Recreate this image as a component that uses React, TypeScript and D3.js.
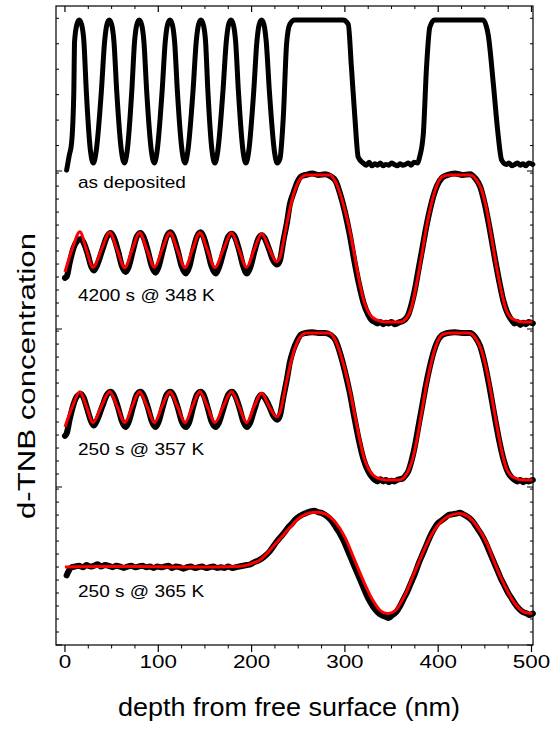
import React from 'react';
import * as d3 from 'd3';

type P = [number, number];

const xTickLabels = [0, 100, 200, 300, 400, 500];
const xMinorStep = 25;
const panelLabels = ['as deposited', '4200 s @ 348 K', '250 s @ 357 K', '250 s @ 365 K'];
const xTitle = 'depth from free surface (nm)';
const yTitle = 'd-TNB concentration';

const asDeposited: P[] = [
  [1.8, -0.05], [4.5, 0.05], [7.1, 0.14], [9.5, 0.5], [10.3, 0.85], [12.8, 0.97], [15.3, 1.0], [17.8, 0.97], [20.3, 0.85], [22.9, 0.5], [27.4, 0.08], [30.4, 0.0], [33.4, 0.08],
  [39, 0.5], [42.5, 0.85], [45, 0.97], [47.5, 1.0], [50, 0.97], [52.5, 0.85], [55.5, 0.5], [60.6, 0.08], [63.6, 0.0], [66.6, 0.08],
  [71.6, 0.5], [74.6, 0.85], [77.1, 0.97], [79.6, 1.0], [82.1, 0.97], [84.6, 0.85], [87.6, 0.5], [92.7, 0.08], [95.7, 0.0], [98.7, 0.08],
  [104.1, 0.5], [107.5, 0.85], [110, 0.97], [112.5, 1.0], [115, 0.97], [117.5, 0.85], [120.5, 0.5], [125.6, 0.08], [128.6, 0.0], [131.6, 0.08],
  [137.2, 0.5], [140.7, 0.85], [143.2, 0.97], [145.7, 1.0], [148.2, 0.97], [150.7, 0.85], [153.2, 0.5], [157.7, 0.08], [160.7, 0.0], [163.7, 0.08],
  [169.3, 0.5], [172.9, 0.85], [175.4, 0.97], [177.9, 1.0], [180.4, 0.97], [182.9, 0.85], [185.9, 0.5], [190.9, 0.08], [193.9, 0.0], [196.9, 0.08],
  [202.3, 0.5], [205.7, 0.85], [208.2, 0.97], [210.7, 1.0], [213.2, 0.97], [215.7, 0.85], [219.1, 0.5], [224.5, 0.08], [227.5, 0.0],
  [230.4, 0.03], [234, 0.32], [237.6, 0.84], [241, 0.97], [246, 1.0], [270, 1.0], [298, 1.0],
  [303.6, 0.97], [307, 0.67], [310.7, 0.32], [314.3, 0.04], [319.6, 0.0],
  [323, -0.015], [326, 0.005], [329, -0.02], [332, -0.005], [335, -0.015], [338, 0.0], [341, -0.02], [344, -0.01],
  [347, -0.015], [350, 0.0], [353, -0.01], [356, -0.02], [359, -0.005], [362, -0.015], [365, -0.01], [368, 0.0],
  [371, -0.015], [374, 0.005], [378, 0.0], [380, 0.04], [384, 0.2], [387.5, 0.67], [391, 0.95], [396, 1.0], [420, 1.0], [448, 1.0],
  [453.5, 0.9], [459, 0.56], [464, 0.21], [468, 0.02], [473, -0.01], [476, 0.0], [479, -0.02], [482, -0.01],
  [485, 0.0], [488, -0.015], [491, -0.005], [494, -0.02], [497, 0.0], [501.4, -0.01],
];

const data348: P[] = [
  [0, 0.3], [2, 0.31], [5, 0.4], [9, 0.5], [13, 0.55], [17, 0.565], [20, 0.54], [24, 0.47], [28, 0.38], [31, 0.35], [34, 0.38],
  [40, 0.49], [45, 0.58], [49, 0.605], [52, 0.58], [57, 0.48], [61, 0.38], [65, 0.34], [68, 0.37], [73, 0.49], [77, 0.58],
  [81, 0.605], [84, 0.58], [89, 0.48], [93, 0.38], [97, 0.335], [100, 0.37], [105, 0.49], [109, 0.58], [113, 0.61], [116, 0.585],
  [121, 0.48], [125, 0.38], [129.5, 0.33], [133, 0.37], [137.5, 0.49], [141.5, 0.58], [145.5, 0.61], [148.5, 0.58], [153, 0.48],
  [157, 0.38], [161.5, 0.33], [165, 0.37], [170.5, 0.49], [175, 0.58], [179, 0.6], [182, 0.58], [187, 0.48], [191, 0.38],
  [195, 0.33], [198.5, 0.37], [203.5, 0.49], [207.5, 0.57], [211, 0.59], [214, 0.57], [219, 0.49], [223, 0.42], [227.5, 0.39],
  [230.5, 0.42], [234, 0.55], [238, 0.68], [241, 0.8], [245, 0.88], [249, 0.95], [253, 0.99], [258, 1.0], [265, 1.01],
  [272, 1.0], [279, 1.005], [285, 0.99], [290, 0.96], [295, 0.87], [300, 0.75], [305, 0.6], [310, 0.42], [315, 0.26],
  [320, 0.13], [325, 0.05], [329, 0.01], [332, 0.0], [335, -0.01], [338, 0.0], [341, -0.015], [344, -0.005], [347, -0.01],
  [350, 0.0], [353, -0.015], [356, -0.01], [359, 0.0], [362, 0.005], [365, 0.02], [368, 0.05], [371, 0.11], [375, 0.22],
  [379, 0.36], [383, 0.5], [387, 0.64], [391, 0.76], [395, 0.86], [399, 0.93], [404, 0.98], [410, 1.0], [418, 1.01],
  [426, 1.0], [434, 1.005], [440, 0.975], [445, 0.92], [450, 0.8], [455, 0.64], [460, 0.46], [465, 0.29], [470, 0.14],
  [475, 0.05], [479, 0.01], [482, -0.01], [485, 0.0], [488, -0.02], [491, -0.005], [494, -0.015], [497, 0.0], [501.4, -0.01],
];

const fit348: P[] = [
  [0, 0.34], [8, 0.5], [16, 0.614], [23, 0.49], [30, 0.372], [39, 0.49], [48, 0.608], [56, 0.49], [64, 0.37], [72, 0.49],
  [80, 0.607], [88, 0.49], [96, 0.372], [104, 0.49], [112.5, 0.607], [120.5, 0.49], [128.6, 0.37], [136.6, 0.49],
  [144.6, 0.607], [152.6, 0.49], [160.7, 0.37], [169.6, 0.49], [178.6, 0.605], [186.6, 0.49], [194.6, 0.372], [202.7, 0.49],
  [210.8, 0.6], [218.8, 0.5], [226.8, 0.41], [230.4, 0.44], [237.5, 0.66], [244.6, 0.86], [251.8, 0.97], [259, 1.0],
  [284, 1.0], [289, 0.966], [294.6, 0.88], [300, 0.76], [305, 0.63], [310.7, 0.44], [316, 0.26], [321, 0.13], [326.8, 0.05],
  [334, 0.014], [344.6, 0.0], [359, 0.0], [366, 0.027], [371.5, 0.1], [376.8, 0.26], [382, 0.44], [387.5, 0.65], [393, 0.81],
  [398, 0.92], [405, 0.99], [412.5, 1.0], [434, 1.0], [441, 0.966], [446.5, 0.9], [452, 0.76], [457, 0.58], [462.5, 0.376],
  [468, 0.2], [473, 0.08], [480, 0.02], [491, 0.0], [501.4, 0.0],
];

const data357: P[] = [
  [0, 0.3], [2, 0.32], [5, 0.41], [9, 0.51], [13, 0.57], [17, 0.585], [20, 0.56], [24, 0.48], [28, 0.4], [31, 0.37], [34, 0.4],
  [40, 0.5], [45, 0.58], [49, 0.6], [52, 0.58], [57, 0.49], [61, 0.4], [65, 0.36], [68, 0.39], [73, 0.5], [77, 0.58], [81, 0.6],
  [84, 0.58], [89, 0.49], [93, 0.4], [97, 0.36], [100, 0.39], [105, 0.5], [109, 0.58], [113, 0.6], [116, 0.58], [121, 0.49],
  [125, 0.4], [129.5, 0.36], [133, 0.39], [137.5, 0.5], [141.5, 0.58], [145.5, 0.6], [148.5, 0.58], [153, 0.49], [157, 0.4],
  [161.5, 0.36], [165, 0.39], [170.5, 0.5], [175, 0.58], [179, 0.6], [182, 0.58], [187, 0.49], [191, 0.4], [195, 0.36],
  [198.5, 0.39], [203.5, 0.49], [207.5, 0.56], [211, 0.58], [214, 0.56], [219, 0.5], [223, 0.44], [227.5, 0.41], [230.5, 0.44],
  [234, 0.56], [238, 0.69], [241, 0.8], [245, 0.89], [249, 0.95], [253, 0.99], [258, 1.0], [265, 1.005], [272, 1.0], [279, 1.0],
  [285, 0.985], [290, 0.95], [295, 0.86], [300, 0.74], [305, 0.6], [310, 0.43], [315, 0.27], [320, 0.14], [325, 0.06],
  [329, 0.02], [332, 0.0], [335, -0.01], [338, 0.005], [341, -0.01], [344, 0.0], [347, -0.015], [350, -0.005], [353, -0.01],
  [356, 0.0], [359, 0.005], [362, 0.01], [365, 0.03], [368, 0.06], [371, 0.12], [375, 0.23], [379, 0.37], [383, 0.51],
  [387, 0.65], [391, 0.77], [395, 0.87], [399, 0.94], [404, 0.985], [410, 1.0], [418, 1.005], [426, 1.0], [434, 1.0],
  [440, 0.97], [445, 0.91], [450, 0.79], [455, 0.63], [460, 0.45], [465, 0.28], [470, 0.14], [475, 0.05], [479, 0.015],
  [482, 0.0], [485, -0.01], [488, 0.0], [491, -0.015], [494, -0.005], [497, -0.01], [501.4, 0.0],
];

const fit357: P[] = [
  [0, 0.36], [8, 0.5], [16, 0.6], [23, 0.5], [30, 0.39], [39, 0.5], [48, 0.6], [56, 0.5], [64, 0.39], [72, 0.5], [80, 0.6],
  [88, 0.5], [96, 0.39], [104, 0.5], [112.5, 0.6], [120.5, 0.5], [128.6, 0.39], [136.6, 0.5], [144.6, 0.6], [152.6, 0.5],
  [160.7, 0.39], [169.6, 0.5], [178.6, 0.6], [186.6, 0.5], [194.6, 0.39], [202.7, 0.5], [210.8, 0.59], [218.8, 0.5],
  [226.8, 0.43], [230.4, 0.46], [237.5, 0.67], [244.6, 0.86], [251.8, 0.97], [259, 1.0], [283, 1.0], [289, 0.96],
  [294.6, 0.87], [300, 0.75], [305, 0.62], [310.7, 0.44], [316, 0.27], [321, 0.14], [326.8, 0.06], [334, 0.016],
  [344.6, 0.0], [358, 0.0], [365, 0.03], [371, 0.11], [376.8, 0.26], [382, 0.45], [387.5, 0.65], [393, 0.81], [398, 0.92],
  [405, 0.99], [412.5, 1.0], [433, 1.0], [440, 0.965], [446, 0.89], [451.5, 0.76], [457, 0.58], [462.5, 0.38], [468, 0.2],
  [473, 0.08], [480, 0.02], [491, 0.0], [501.4, 0.0],
];

const data365: P[] = [
  [1.8, 0.44], [4, 0.47], [7, 0.495], [11, 0.5], [15, 0.505], [19, 0.495], [23, 0.51], [27, 0.5], [31, 0.505], [35, 0.515],
  [39, 0.5], [43, 0.51], [47, 0.505], [51, 0.495], [55, 0.505], [59, 0.5], [63, 0.49], [67, 0.5], [71, 0.505], [75, 0.495],
  [79, 0.5], [83, 0.505], [87, 0.495], [91, 0.5], [95, 0.49], [99, 0.5], [103, 0.495], [107, 0.5], [111, 0.505], [115, 0.49],
  [119, 0.5], [123, 0.495], [127, 0.485], [131, 0.495], [135, 0.5], [139, 0.49], [143, 0.495], [147, 0.5], [151, 0.49],
  [155, 0.495], [159, 0.5], [163, 0.49], [167, 0.495], [171, 0.49], [175, 0.5], [179, 0.49], [183, 0.495], [187, 0.5],
  [191, 0.505], [195, 0.51], [199, 0.515], [203, 0.53], [207, 0.54], [211, 0.555], [215, 0.575], [219, 0.6], [223, 0.635],
  [227, 0.67], [231, 0.7], [235, 0.73], [239, 0.765], [243, 0.79], [247, 0.82], [251, 0.84], [255, 0.855], [259, 0.865],
  [263, 0.875], [267, 0.88], [271, 0.87], [275, 0.865], [279, 0.85], [283, 0.83], [287, 0.8], [291, 0.76], [295, 0.72],
  [299, 0.67], [303, 0.61], [307, 0.55], [311, 0.49], [315, 0.43], [319, 0.37], [323, 0.31], [327, 0.26], [331, 0.22],
  [335, 0.19], [339, 0.17], [343, 0.16], [347, 0.15], [351, 0.17], [355, 0.19], [359, 0.23], [363, 0.28], [367, 0.33],
  [371, 0.39], [375, 0.45], [379, 0.52], [383, 0.58], [387, 0.64], [391, 0.7], [395, 0.75], [399, 0.79], [403, 0.81],
  [407, 0.83], [411, 0.85], [415, 0.855], [419, 0.86], [423, 0.865], [427, 0.855], [431, 0.84], [435, 0.82], [439, 0.79],
  [443, 0.75], [447, 0.71], [451, 0.66], [455, 0.6], [459, 0.54], [463, 0.48], [467, 0.42], [471, 0.37], [475, 0.32],
  [479, 0.28], [483, 0.24], [487, 0.21], [491, 0.19], [495, 0.18], [498, 0.17], [501.4, 0.18],
];

const fit365: P[] = [
  [0, 0.497], [40, 0.5], [80, 0.5], [120, 0.497], [160, 0.497], [185, 0.5], [198, 0.515], [210, 0.55], [223, 0.635],
  [232, 0.7], [241, 0.765], [252, 0.835], [262, 0.865], [270, 0.87], [280, 0.855], [290, 0.8], [300, 0.7], [310, 0.55],
  [320, 0.4], [330, 0.27], [338, 0.2], [346, 0.18], [354, 0.2], [364, 0.3], [374, 0.45], [384, 0.6], [394, 0.73],
  [404, 0.81], [414, 0.85], [423, 0.86], [432, 0.84], [442, 0.77], [452, 0.66], [462, 0.5], [472, 0.36], [482, 0.25],
  [492, 0.19], [501.4, 0.18],
];

// layout
const W = 550, H = 729;
const L = 56, R = 533, T = 6, B = 645;
const panelBounds: [number, number][] = [[6, 171], [171, 329], [329, 487], [487, 645]];
const panelDomains: [number, number][] = [[-0.056, 1.098], [-0.048, 1.027], [-0.048, 1.027], [-0.034, 1.041]];
const panelTickSteps = [0.178, 0.0884, 0.0884, 0.0884];
const panelLabelBaselines = [188, 301, 455, 597];
const FONT = 'Liberation Sans, Arial, Helvetica, sans-serif';

export default function App() {
  const x = d3.scaleLinear().domain([-9.6, 501.6]).range([L, R]);
  const yScales = panelBounds.map((b, i) => d3.scaleLinear().domain(panelDomains[i]).range([b[1], b[0]]));
  const mkLine = (ys: d3.ScaleLinear<number, number>) =>
    d3.line<P>().x(d => x(d[0])).y(d => ys(d[1])).curve(d3.curveMonotoneX);

  const series = [
    { data: asDeposited, fit: null as P[] | null },
    { data: data348, fit: fit348 },
    { data: data357, fit: fit357 },
    { data: data365, fit: fit365 },
  ];

  const minorX = d3.range(0, 501, xMinorStep).filter(v => !xTickLabels.includes(v));

  return (
    <svg width={W} height={H} style={{ position: 'absolute', left: 0, top: 0, background: '#fff' }}>
      <rect x={0} y={0} width={W} height={H} fill="#fff" />
      {series.map((s, i) => {
        const ln = mkLine(yScales[i]);
        return (
          <g key={i}>
            <path d={ln(s.data) || ''} fill="none" stroke="#000" strokeWidth={i === 0 ? 5 : 6} strokeLinejoin="round" strokeLinecap="round" />
            {s.fit && <path d={ln(s.fit) || ''} fill="none" stroke="#ff0000" strokeWidth={3} strokeLinejoin="round" />}
          </g>
        );
      })}
      <rect x={L} y={T} width={R - L} height={B - T} fill="none" stroke="#000" strokeWidth={1.2} />
      {yScales.map((ys, i) => {
        const [lo, hi] = panelDomains[i];
        const ticks = d3.range(lo, hi + 1e-6, panelTickSteps[i]);
        return ticks.map((v, k) => {
          const yy = ys(v);
          const len = k === 0 ? 6 : 3;
          return (
            <g key={`yt${i}-${k}`}>
              <line x1={L} x2={L + len} y1={yy} y2={yy} stroke="#000" strokeWidth={1} />
              <line x1={R} x2={R - len} y1={yy} y2={yy} stroke="#000" strokeWidth={1} />
            </g>
          );
        });
      })}
      {xTickLabels.map(v => (
        <g key={`xt${v}`}>
          <line x1={x(v)} x2={x(v)} y1={B} y2={B + 7} stroke="#000" strokeWidth={1.2} />
          <line x1={x(v)} x2={x(v)} y1={T} y2={T + 6} stroke="#000" strokeWidth={1.2} />
          <text transform={`translate(${x(v)},668) scale(1.18,1)`} textAnchor="middle" fontFamily={FONT} fontSize={19}>{v}</text>
        </g>
      ))}
      {minorX.map(v => (
        <g key={`xm${v}`}>
          <line x1={x(v)} x2={x(v)} y1={B} y2={B + 3.5} stroke="#000" strokeWidth={1} />
          <line x1={x(v)} x2={x(v)} y1={T} y2={T + 3} stroke="#000" strokeWidth={1} />
        </g>
      ))}
      {panelLabels.map((t, i) => (
        <text key={t} transform={`translate(78,${panelLabelBaselines[i]}) scale(1.12,1)`} fontFamily={FONT} fontSize={17}>{t}</text>
      ))}
      <text transform={`translate(289,716) scale(1.08,1)`} textAnchor="middle" fontFamily={FONT} fontSize={25}>{xTitle}</text>
      <text transform={`translate(35,376) rotate(-90) scale(1.3,1)`} textAnchor="middle" fontFamily={FONT} fontSize={24}>{yTitle}</text>
    </svg>
  );
}
